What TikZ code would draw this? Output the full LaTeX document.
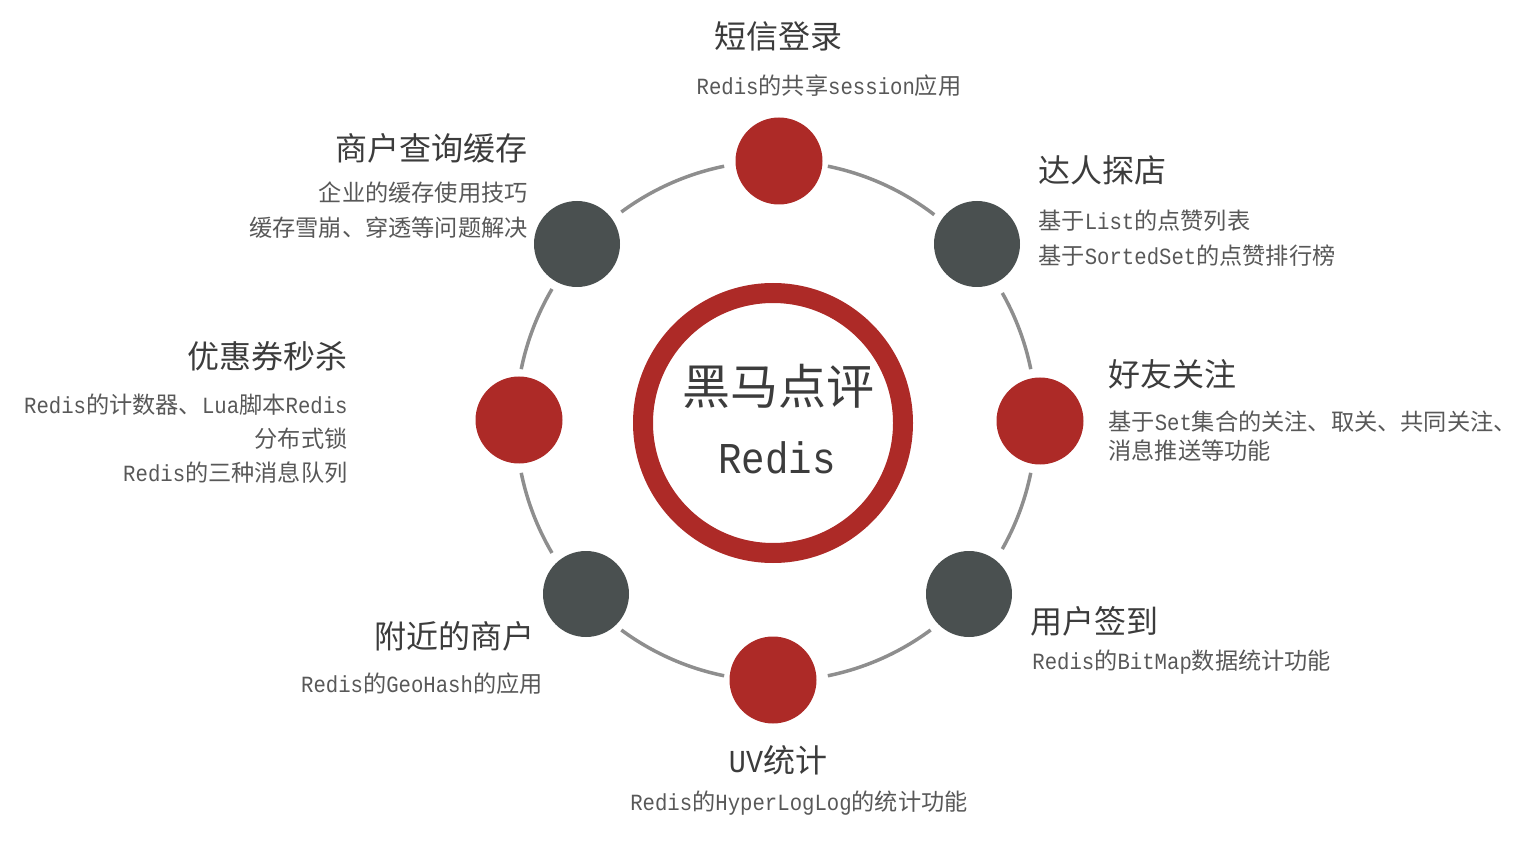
\documentclass[tikz,border=0pt]{standalone}
\usepackage{fontspec}
\setmainfont{Noto Sans CJK SC}
\newfontfamily\latn[FakeStretch=0.89]{Liberation Mono}
\newcommand\en[1]{{\latn #1}}
\definecolor{redis}{HTML}{AD2A27}
\definecolor{slate}{HTML}{4A5050}
\definecolor{orbitgray}{HTML}{8E8E8E}
\definecolor{titlegray}{HTML}{3C3C3C}
\definecolor{notegray}{HTML}{585858}

\begin{document}
\begin{tikzpicture}[x=0.5pt,y=-0.5pt,
  reddot/.style={circle,fill=redis,minimum size=43.5pt,inner sep=0pt},
  graydot/.style={circle,fill=slate,minimum size=43pt,inner sep=0pt},
  orbit/.style={orbitgray,line width=1.75pt},
  title/.style={font=\fontsize{16}{19}\selectfont,text=titlegray,inner sep=0pt},
  note/.style={font=\fontsize{11.6}{17.5}\selectfont,text=notegray,inner sep=0pt}]
\useasboundingbox (0,0) rectangle (1538,850);
% orbit, gaps left round the dots
\foreach \a/\b in {11.5/29.5,52.5/78.5,101.5/126.5,149.5/168.5,191.5/210.5,233.5/258.5,281.5/306.5,330.5/348.5}
  \draw[orbit] (776,421) ++(-\a:260) arc[start angle=-\a, end angle=-\b, radius=260];
% centre ring
\node[circle, draw=redis, line width=10pt, minimum size=130pt] (hub) at (773,423) {};
\node[font=\fontsize{24}{28}\selectfont, text=titlegray] (hubcn) at (778,386) {黑马点评};
\node[font=\fontsize{22}{26}\selectfont\latn, text=titlegray] (huben) at (777,458) {Redis};
% dots
\node[reddot] (d1) at (779,161) {};
\node[graydot] (d2) at (977,244) {};
\node[reddot] (d3) at (1040,421) {};
\node[graydot] (d4) at (969,594) {};
\node[reddot] (d5) at (773,680) {};
\node[graydot] (d6) at (586,594) {};
\node[reddot] (d7) at (519,420) {};
\node[graydot] (d8) at (577,244) {};
% labels
\node[title] (t1) at (778,36) {短信登录};
\node[note] (n1) at (829,86) {\en{Redis}的共享\en{session}应用};
\node[title, anchor=west] (t2) at (1038,170) {达人探店};
\node[note, anchor=west, align=left] (n2) at (1038,238.5) {基于\en{List}的点赞列表\\基于\en{SortedSet}的点赞排行榜};
\node[title, anchor=west] (t3) at (1108,374) {好友关注};
\node[note, anchor=west, align=left, font=\fontsize{11.6}{14.5}\selectfont] (n3) at (1108,436.5) {基于\en{Set}集合的关注、取关、共同关注、\\消息推送等功能};
\node[title, anchor=west] (t4) at (1030,621) {用户签到};
\node[note, anchor=west] (n4) at (1032,662) {\en{Redis}的\en{BitMap}数据统计功能};
\node[title] (t5) at (778,760) {\en{UV}统计};
\node[note] (n5) at (799,803) {\en{Redis}的\en{HyperLogLog}的统计功能};
\node[title, anchor=east] (t6) at (535,636) {附近的商户};
\node[note, anchor=east] (n6) at (543,684) {\en{Redis}的\en{GeoHash}的应用};
\node[title, anchor=east] (t7) at (348,356) {优惠券秒杀};
\node[note, anchor=east, align=right, font=\fontsize{11.6}{17}\selectfont] (n7) at (348,439) {\en{Redis}的计数器、\en{Lua}脚本\en{Redis}\\分布式锁\\\en{Redis}的三种消息队列};
\node[title, anchor=east] (t8) at (528,148) {商户查询缓存};
\node[note, anchor=east, align=right] (n8) at (528,210.5) {企业的缓存使用技巧\\缓存雪崩、穿透等问题解决};
\end{tikzpicture}
\end{document}
